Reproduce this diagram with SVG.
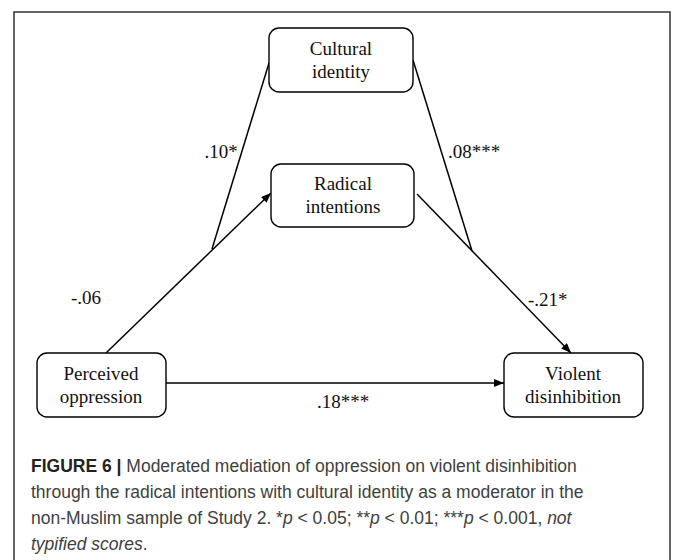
<svg xmlns="http://www.w3.org/2000/svg" width="674" height="560" viewBox="0 0 674 560">
<defs>
<marker id="ah" viewBox="0 0 10 8" refX="10" refY="4" markerWidth="10" markerHeight="8" markerUnits="userSpaceOnUse" orient="auto">
<path d="M0,0 L10,4 L0,8 Z" fill="#000"/>
</marker>
<style>
.box{fill:#fff;stroke:#000;stroke-width:1.4}
.nt{font-family:"Liberation Serif","Times New Roman",serif;font-size:19px;fill:#111;text-anchor:middle}
.lab{font-family:"Liberation Serif","Times New Roman",serif;font-size:19px;fill:#111}
.edge{stroke:#000;stroke-width:1.5;fill:none}
.cap{font-family:"Liberation Sans",Arial,sans-serif;font-size:17.5px;fill:#404040}
</style>
</defs>
<rect width="674" height="560" fill="#fff"/>
<path d="M14,562 V12 H670 V562" fill="none" stroke="#333" stroke-width="1.5"/>
<g id="connectors">
<line class="edge" x1="106" y1="353" x2="271" y2="193" marker-end="url(#ah)"/>
<line class="edge" x1="417" y1="194" x2="571" y2="353" marker-end="url(#ah)"/>
<line class="edge" x1="166" y1="383" x2="504" y2="383" marker-end="url(#ah)"/>
<line class="edge" x1="269" y1="63" x2="212" y2="249"/>
<line class="edge" x1="413" y1="60" x2="472" y2="251"/>
<text class="lab" x="221" y="158" text-anchor="middle">.10*</text>
<text class="lab" x="448" y="158">.08***</text>
<text class="lab" x="86" y="304" text-anchor="middle">-.06</text>
<text class="lab" x="528" y="306">-.21*</text>
<text class="lab" x="343" y="408" text-anchor="middle">.18***</text>
</g>
<g id="cultural">
<rect class="box" x="269" y="28" width="144" height="64" rx="10"/>
<text class="nt" x="341" y="55">Cultural</text>
<text class="nt" x="341" y="78">identity</text>
</g>
<g id="radical">
<rect class="box" x="271" y="164" width="143" height="63" rx="10"/>
<text class="nt" x="343" y="190">Radical</text>
<text class="nt" x="343" y="213">intentions</text>
</g>
<g id="perceived">
<rect class="box" x="37" y="353" width="129" height="64" rx="10"/>
<text class="nt" x="101" y="380">Perceived</text>
<text class="nt" x="101" y="403">oppression</text>
</g>
<g id="violent">
<rect class="box" x="504" y="353" width="139" height="64" rx="10"/>
<text class="nt" x="573" y="380">Violent</text>
<text class="nt" x="573" y="403">disinhibition</text>
</g>
<g id="caption">
<text class="cap" x="31" y="472"><tspan font-weight="bold" fill="#222">FIGURE 6 |</tspan> Moderated mediation of oppression on violent disinhibition</text>
<text class="cap" x="31" y="498">through the radical intentions with cultural identity as a moderator in the</text>
<text class="cap" x="31" y="524">non-Muslim sample of Study 2. *<tspan font-style="italic">p</tspan> &lt; 0.05; **<tspan font-style="italic">p</tspan> &lt; 0.01; ***<tspan font-style="italic">p</tspan> &lt; 0.001, <tspan font-style="italic">not</tspan></text>
<text class="cap" x="31" y="550"><tspan font-style="italic">typified scores</tspan>.</text>
</g>
</svg>
